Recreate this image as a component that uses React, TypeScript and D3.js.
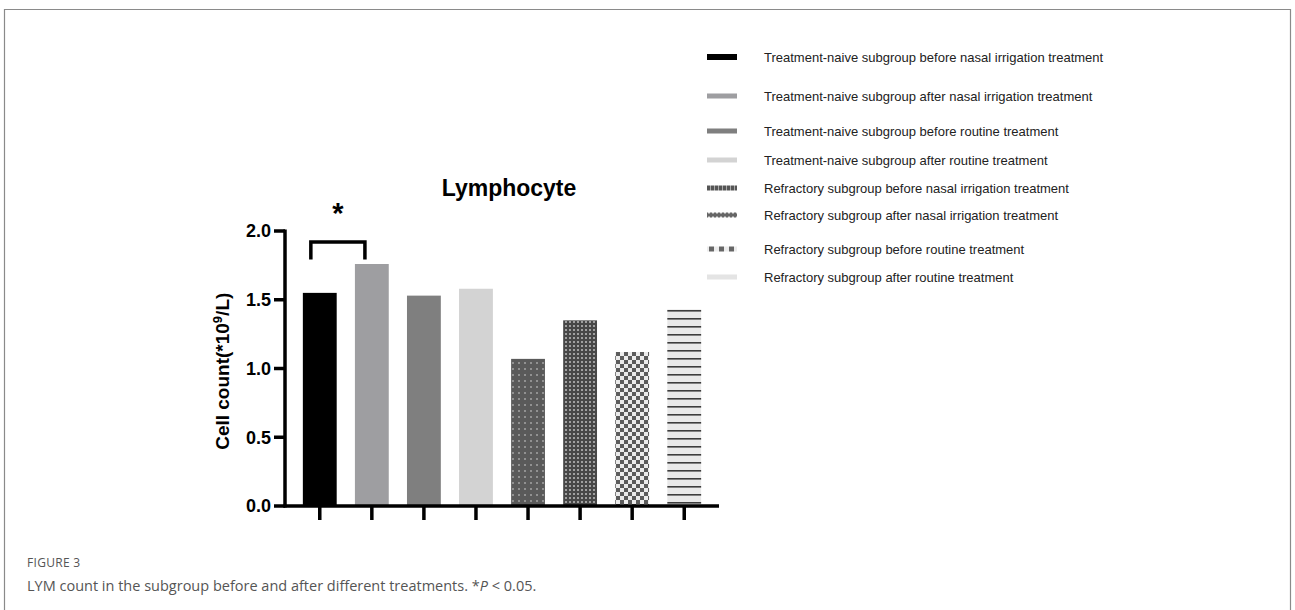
import React from "react";
import * as d3 from "d3";

const GROUPS = [
  "Treatment-naive subgroup before nasal irrigation treatment",
  "Treatment-naive subgroup after nasal irrigation treatment",
  "Treatment-naive subgroup before routine treatment",
  "Treatment-naive subgroup after routine treatment",
  "Refractory subgroup before nasal irrigation treatment",
  "Refractory subgroup after nasal irrigation treatment",
  "Refractory subgroup before routine treatment",
  "Refractory subgroup after routine treatment",
];
const VALUES = [1.55, 1.76, 1.53, 1.58, 1.07, 1.35, 1.12, 1.43];
const FILLS = ["#000", "#9e9ea1", "#7f7f7f", "#d3d3d3", "url(#p5)", "url(#p6)", "url(#p7)", "url(#p8)"];
const LEGEND_FILLS = ["#000", "#9e9ea1", "#7f7f7f", "#d3d3d3", "url(#l5)", "url(#l6)", "url(#l7)", "#e4e4e4"];
const Y_TICKS = [0, 0.5, 1.0, 1.5, 2.0];
// legend rows sit a bit unevenly in the original
const LEGEND_Y = [57, 96, 131, 160, 188, 215, 249, 277];

const W = 1295, H = 610;
const FONT = "Liberation Sans, Arial, sans-serif";

export default function App() {
  const x = d3.scaleBand<number>().domain(d3.range(8)).range([294, 710]).paddingInner(0.35).paddingOuter(0.17);
  const y = d3.scaleLinear().domain([0, 2]).range([506, 231]);
  const x0 = 285;

  return (
    <svg width={W} height={H} style={{ position: "absolute", left: 0, top: 0, background: "#fff" }}>
      <defs>
        <pattern id="p5" width="6" height="6" patternUnits="userSpaceOnUse">
          <rect width="6" height="6" fill="#5a5a5a" />
          <rect x="2.2" y="2.2" width="1.6" height="1.6" fill="#b0b0b0" />
        </pattern>
        <pattern id="p6" width="4" height="4" patternUnits="userSpaceOnUse">
          <rect width="4" height="4" fill="#474747" />
          <rect x="1" y="1" width="2" height="2" fill="#a0a0a0" />
        </pattern>
        <pattern id="p7" width="8" height="8" patternUnits="userSpaceOnUse">
          <rect width="8" height="8" fill="#ececec" />
          <rect width="4" height="4" fill="#5c5c5c" />
          <rect x="4" y="4" width="4" height="4" fill="#5c5c5c" />
        </pattern>
        <pattern id="p8" width="8" height="8" patternUnits="userSpaceOnUse" y="1">
          <rect width="8" height="8" fill="#e8e8e8" />
          <rect y="5" width="8" height="1.6" fill="#3c3c3c" />
        </pattern>
        <pattern id="l5" width="4" height="5" patternUnits="userSpaceOnUse">
          <rect width="4" height="5" fill="#555" />
          <rect x="3" width="1" height="5" fill="#aaa" />
        </pattern>
        <pattern id="l6" width="4" height="5" patternUnits="userSpaceOnUse">
          <rect width="4" height="5" fill="#666" />
          <rect x="1" y="1.5" width="2" height="2" fill="#ddd" />
        </pattern>
        <pattern id="l7" width="10" height="5" patternUnits="userSpaceOnUse">
          <rect width="10" height="5" fill="#ececec" />
          <rect x="2" width="5" height="5" fill="#666" />
        </pattern>
      </defs>

      {/* figure frame */}
      <path d={`M4.5,${H} V9.5 H1290.5 V${H}`} fill="none" stroke="#8a8a8a" strokeWidth={1.2} />

      {/* bars */}
      {VALUES.map((v, i) => (
        <rect key={i} x={x(i)} y={y(v)} width={x.bandwidth()} height={y(0) - y(v)} fill={FILLS[i]} />
      ))}

      {/* y axis */}
      <line x1={x0} x2={x0} y1={y(2) - 1.5} y2={y(0) + 1.5} stroke="#000" strokeWidth={3.5} />
      {Y_TICKS.map(t => (
        <g key={t}>
          <line x1={x0 - 11} x2={x0} y1={y(t)} y2={y(t)} stroke="#000" strokeWidth={3.5} />
          <text x={x0 - 14} y={y(t)} dy="0.36em" textAnchor="end" fontFamily={FONT} fontWeight="bold" fontSize={18} fill="#000">
            {d3.format(".1f")(t)}
          </text>
        </g>
      ))}

      {/* x axis */}
      <line x1={x0 - 1.5} x2={719} y1={y(0)} y2={y(0)} stroke="#000" strokeWidth={3.5} />
      {VALUES.map((_, i) => (
        <line key={i} x1={x(i)! + x.bandwidth() / 2} x2={x(i)! + x.bandwidth() / 2} y1={y(0)} y2={y(0) + 14} stroke="#000" strokeWidth={3.5} />
      ))}

      {/* significance bracket */}
      <path
        d={`M${x(0)! + 8},${y(1.8) + 1} V${y(1.92)} H${x(1)! + 10} V${y(1.8) + 1}`}
        fill="none" stroke="#000" strokeWidth={3.5} />
      <text x={(x(0)! + x(1)! + 18) / 2} y={223} textAnchor="middle" fontFamily={FONT} fontWeight="bold" fontSize={29}>*</text>

      {/* title */}
      <text x={509} y={196} textAnchor="middle" fontFamily={FONT} fontWeight="bold" fontSize={23}>Lymphocyte</text>

      {/* y label */}
      <text transform={`translate(229,${y(0.98)}) rotate(-90)`} textAnchor="middle" fontFamily={FONT} fontWeight="bold" fontSize={19}>
        Cell count(*10<tspan dy="-7" fontSize={13}>9</tspan><tspan dy="7">/L)</tspan>
      </text>

      {/* legend */}
      {GROUPS.map((g, i) => (
        <g key={g} transform={`translate(707,${LEGEND_Y[i]})`}>
          <rect x={0} y={i === 0 ? -3 : -2.5} width={30} height={i === 0 ? 6 : 5} fill={LEGEND_FILLS[i]} />
          <text x={57} y={0} dy="0.35em" fontFamily={FONT} fontSize={13} fill="#222">{g}</text>
        </g>
      ))}

      {/* caption */}
      <text x={27} y={567} fontFamily="Open Sans, sans-serif" fontSize={12} fill="#555" letterSpacing={0.3}>FIGURE 3</text>
      <text x={27} y={591} fontFamily="Open Sans, sans-serif" fontSize={14.5} fill="#555">
        LYM count in the subgroup before and after different treatments. *<tspan fontStyle="italic">P</tspan> {"<"} 0.05.
      </text>
    </svg>
  );
}
